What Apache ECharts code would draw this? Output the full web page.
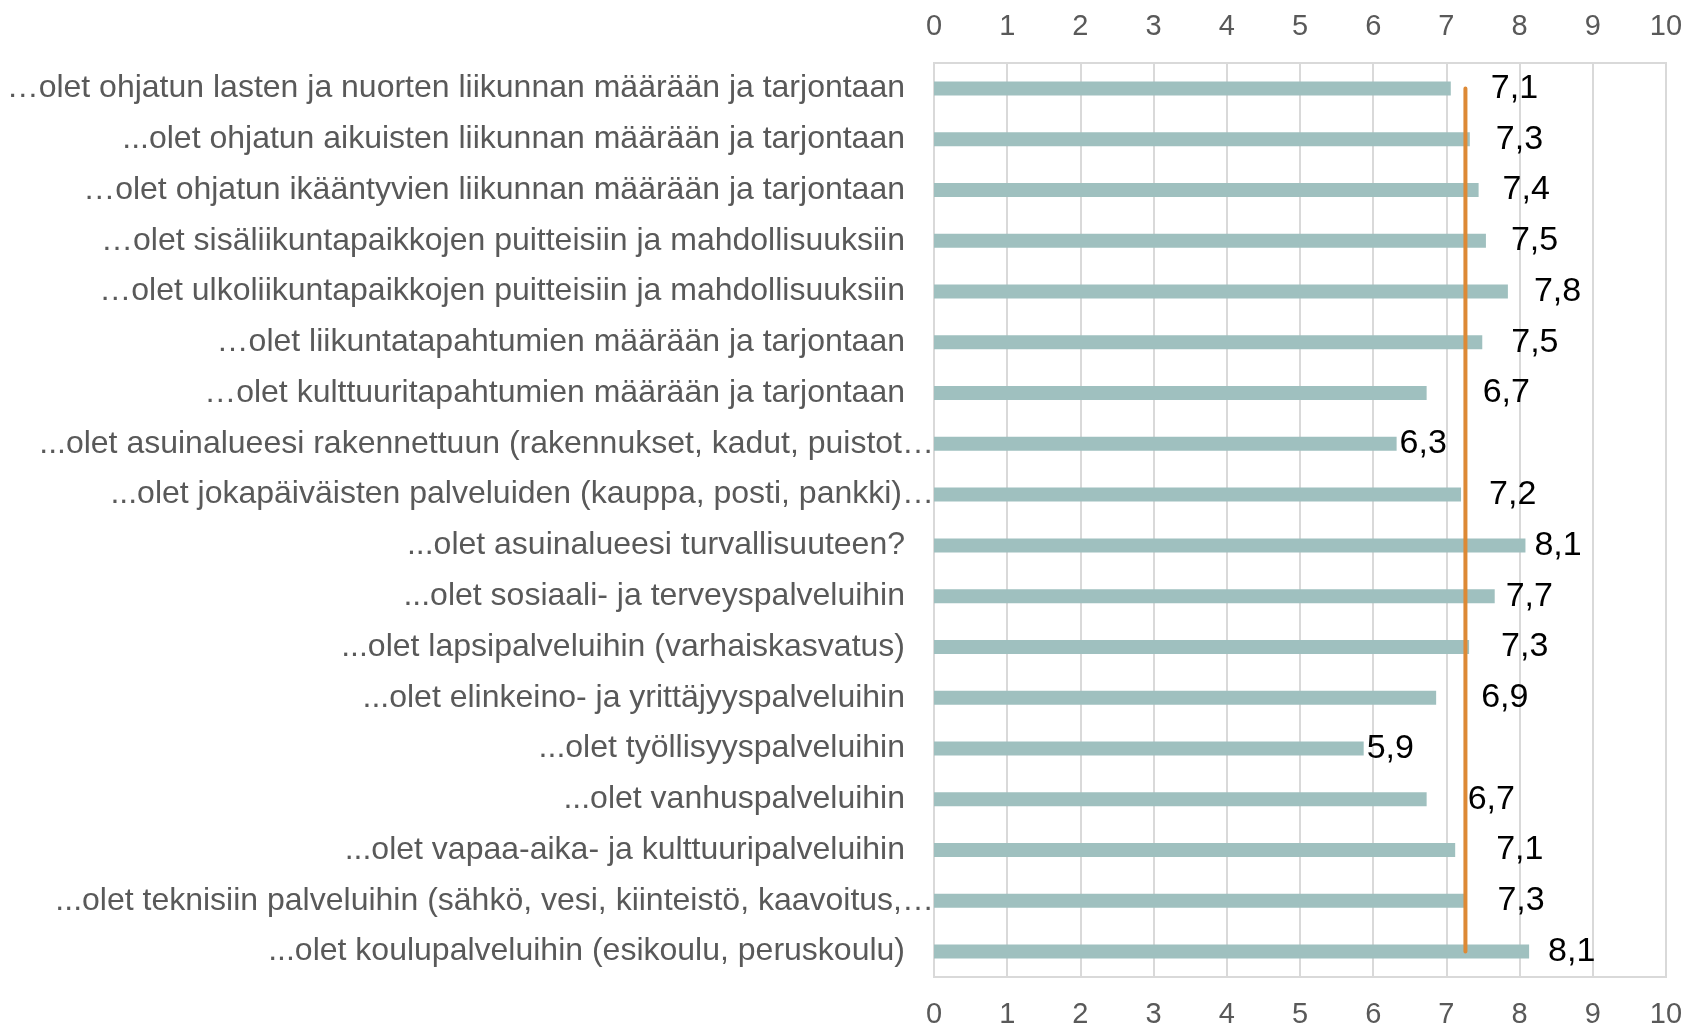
<!DOCTYPE html>
<html>
<head>
<meta charset="utf-8">
<script src="https://cdn.jsdelivr.net/npm/echarts@6/dist/echarts.min.js"></script>
<style>
  html, body { margin: 0; padding: 0; background: #ffffff; }
  #chart { width: 1696px; height: 1030px; }
</style>
</head>
<body>
<div id="chart"></div>
<script>
// kysymykset ylhäältä alas
const categories = [
  '…olet ohjatun lasten ja nuorten liikunnan määrään ja tarjontaan',
  '...olet ohjatun aikuisten liikunnan määrään ja tarjontaan',
  '…olet ohjatun ikääntyvien liikunnan määrään ja tarjontaan',
  '…olet sisäliikuntapaikkojen puitteisiin ja mahdollisuuksiin',
  '…olet ulkoliikuntapaikkojen puitteisiin ja mahdollisuuksiin',
  '…olet liikuntatapahtumien määrään ja tarjontaan',
  '…olet kulttuuritapahtumien määrään ja tarjontaan',
  '...olet asuinalueesi rakennettuun (rakennukset, kadut, puistot…',
  '...olet jokapäiväisten palveluiden (kauppa, posti, pankki)…',
  '...olet asuinalueesi turvallisuuteen?',
  '...olet sosiaali- ja terveyspalveluihin',
  '...olet lapsipalveluihin (varhaiskasvatus)',
  '...olet elinkeino- ja yrittäjyyspalveluihin',
  '...olet työllisyyspalveluihin',
  '...olet vanhuspalveluihin',
  '...olet vapaa-aika- ja kulttuuripalveluihin',
  '...olet teknisiin palveluihin (sähkö, vesi, kiinteistö, kaavoitus,…',
  '...olet koulupalveluihin (esikoulu, peruskoulu)'
];
const scores = [7.06, 7.32, 7.44, 7.54, 7.84, 7.49, 6.73, 6.32, 7.2, 8.08, 7.66, 7.31, 6.86, 5.87, 6.73, 7.12, 7.26, 8.13];
const average = 7.26;
const ticks = [0, 1, 2, 3, 4, 5, 6, 7, 8, 9, 10];

// arvojen etäisyys palkin päästä (px), kuten alkuperäisessä
const labelGap = [40, 26, 24, 25, 26, 29, 56, 3, 28, 9, 11, 32, 45, 3, 41, 41, 32, 19];

let chart = echarts.init(document.getElementById('chart'));

let font = 'Liberation Sans, Arial, sans-serif';

let xAxisBase = {
  type: 'value',
  min: ticks[0],
  max: ticks[ticks.length - 1],
  interval: 1,
  axisLine: {show: false},
  axisTick: {show: false},
  axisLabel: {
    color: '#595959',
    fontSize: 29,
    fontFamily: font
  }
};

let option = {
  animation: false,
  backgroundColor: '#ffffff',
  grid: {
    left: 934,
    right: 30,
    top: 63,
    bottom: 53,
    show: true,
    borderColor: '#d9d9d9',
    borderWidth: 2
  },
  xAxis: [
    Object.assign({}, xAxisBase, {
      position: 'bottom',
      splitLine: {show: true, lineStyle: {color: '#d9d9d9', width: 2}},
      axisLabel: Object.assign({}, xAxisBase.axisLabel, {margin: 23})
    }),
    Object.assign({}, xAxisBase, {
      position: 'top',
      splitLine: {show: false},
      axisLabel: Object.assign({}, xAxisBase.axisLabel, {margin: 22})
    })
  ],
  yAxis: {
    type: 'category',
    inverse: true,
    data: categories,
    axisLine: {show: false},
    axisTick: {show: false},
    axisLabel: {
      color: '#595959',
      fontSize: 32,
      margin: 29,
      fontFamily: font,
      // katkaistut tekstit jatkuvat akseliin asti kuten Excelissä
      formatter: v => v.endsWith('…') ? '{cut|' + v + '}' : v,
      rich: {
        cut: {
          color: '#595959',
          fontSize: 32,
          fontFamily: font,
          padding: [0, -29, 0, 0]
        }
      }
    }
  },
  series: [
    {
      name: 'Keskiarvo',
      type: 'bar',
      xAxisIndex: 0,
      barWidth: 14,
      itemStyle: {color: '#9fc0bf'},
      data: scores.map((v, i) => ({
        value: v,
        label: {distance: labelGap[i]}
      })),
      label: {
        show: true,
        position: 'right',
        color: '#000000',
        fontSize: 34,
        fontFamily: font,
        formatter: p => p.value.toFixed(1).replace('.', ',')
      },
      z: 2
    },
    {
      name: 'Kaikkien keskiarvo',
      type: 'line',
      xAxisIndex: 0,
      symbol: 'none',
      lineStyle: {color: '#dd8935', width: 4, cap: 'round'},
      data: categories.map(c => [average, c]),
      z: 3
    }
  ]
};

chart.setOption(option);
</script>
</body>
</html>
